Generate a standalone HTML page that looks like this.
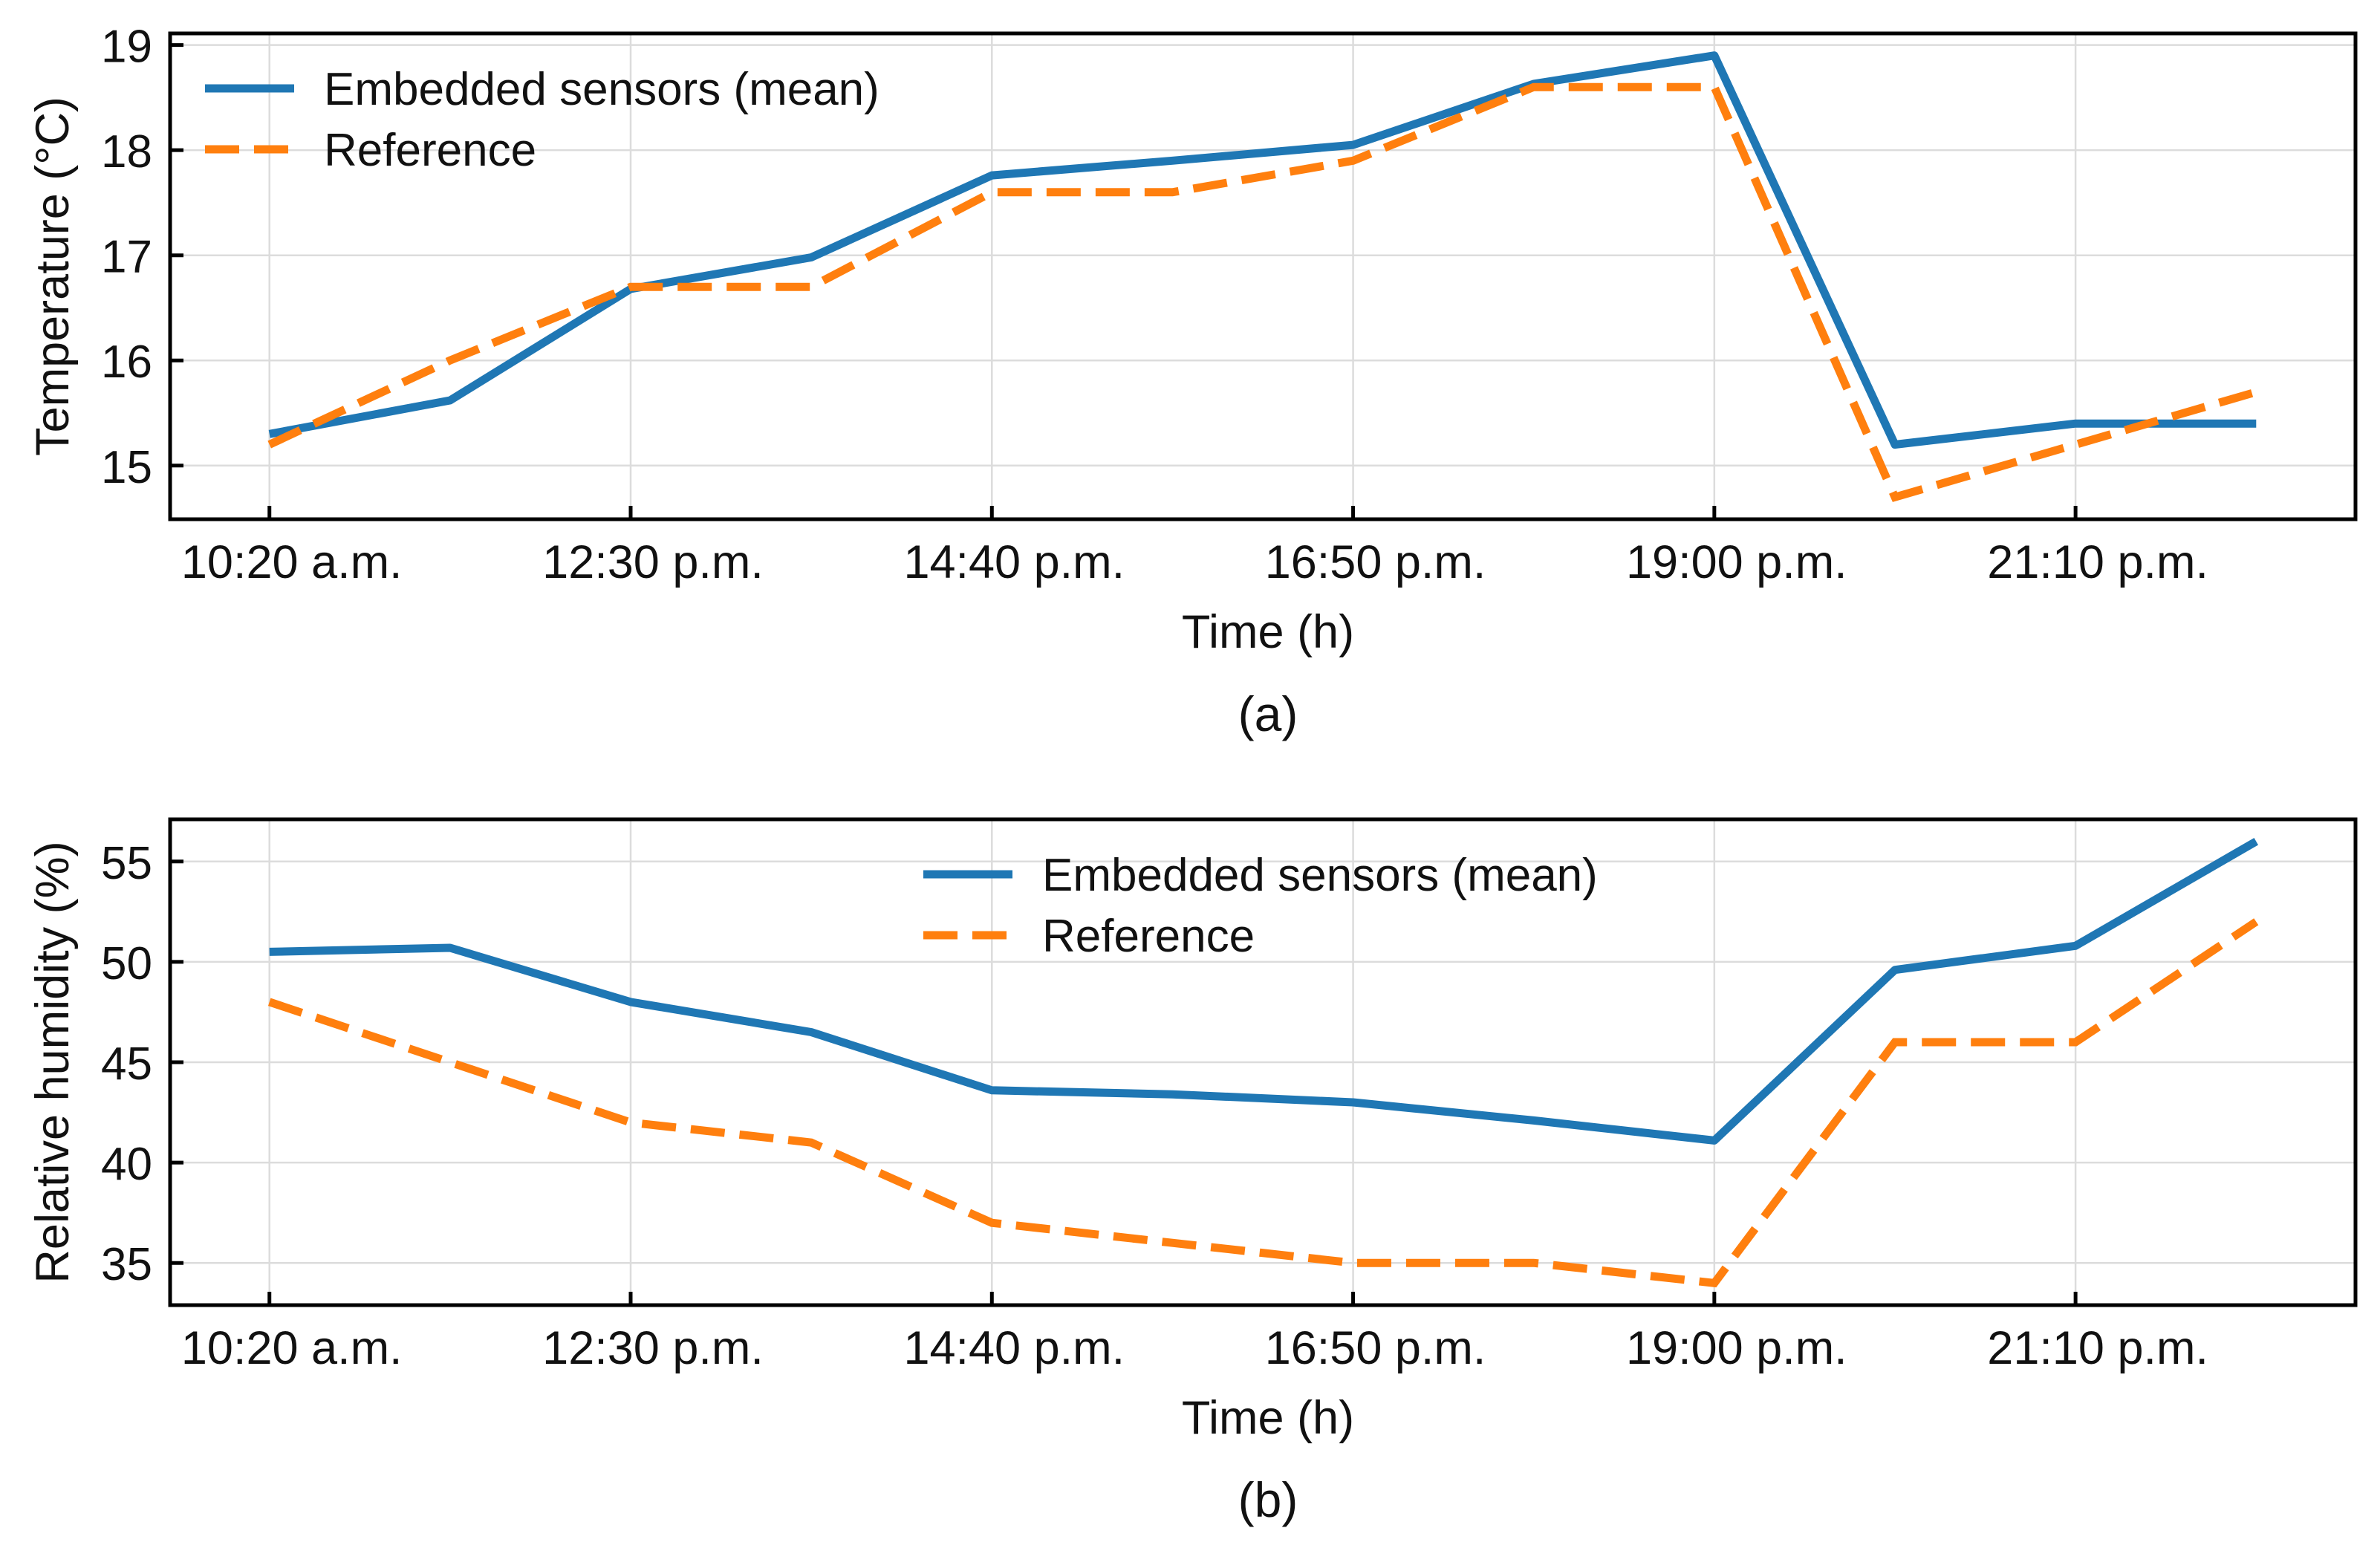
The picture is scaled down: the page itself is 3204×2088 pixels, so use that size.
<!DOCTYPE html>
<html><head><meta charset="utf-8"><style>
html,body{margin:0;padding:0;background:#fff;}
svg{display:block;}
text{font-family:"Liberation Sans",sans-serif;fill:#111;}
</style></head><body>
<svg id="fig" width="3204" height="2088" viewBox="0 0 3204 2088"></svg>
<script>
const xTickLabels = ["10:20 a.m.","12:30 p.m.","14:40 p.m.","16:50 p.m.","19:00 p.m.","21:10 p.m."];
const xTickIdx = [0,2,4,6,8,10];
const tempSensors = [15.3,15.62,16.68,16.98,17.76,17.9,18.05,18.63,18.9,15.2,15.4,15.4];
const tempReference = [15.2,16.0,16.7,16.7,17.6,17.6,17.9,18.6,18.6,14.7,15.2,15.7];
const tempTicks = [15,16,17,18,19];
const humSensors = [50.5,50.7,48.0,46.5,43.6,43.4,43.0,42.1,41.1,49.6,50.8,56.0];
const humReference = [48,45,42,41,37,36,35,35,34,46,46,52];
const humTicks = [35,40,45,50,55];

const NS="http://www.w3.org/2000/svg";
const svg=document.getElementById('fig');
function mk(tag,attrs,parent){const e=document.createElementNS(NS,tag);for(const k in attrs)e.setAttribute(k,attrs[k]);(parent||svg).appendChild(e);return e;}

function panel(cfg){
  const L=229,R=3171,T=cfg.top,B=cfg.bottom;
  const n=cfg.s1.length;
  const all=cfg.s1.concat(cfg.s2);
  const mn=Math.min(...all),mx=Math.max(...all),pad=(mx-mn)*0.05;
  const y0=mn-pad,y1=mx+pad;
  const x0=-0.55,x1=n-1+0.55;
  const X=i=>L+(i-x0)/(x1-x0)*(R-L);
  const Y=v=>B-(v-y0)/(y1-y0)*(B-T);
  const g=mk('g',{});
  
  
  cfg.yticks.forEach(v=>{
    const l=mk('line',{x1:L,x2:R,y1:Y(v),y2:Y(v),stroke:'#dcdcdc','stroke-width':2.5},g);
    
    
  });
  xTickIdx.forEach(i=>{
    const l=mk('line',{x1:X(i),x2:X(i),y1:T,y2:B,stroke:'#dcdcdc','stroke-width':2.5},g);
    
    
  });
  const pts=a=>a.map((v,i)=>X(i).toFixed(1)+','+Y(v).toFixed(1)).join(' ');
  const p1=mk('polyline',{points:pts(cfg.s1),fill:'none',stroke:'#1f77b4','stroke-width':11,'stroke-linejoin':'round'},g);
  
  
  const p2=mk('polyline',{points:pts(cfg.s2),fill:'none',stroke:'#ff7f0e','stroke-width':11,'stroke-dasharray':'46 20'},g);
  
  
  const fr=mk('rect',{x:L,y:T,width:R-L,height:B-T,fill:'none',stroke:'#000','stroke-width':5},g);
  
  
  cfg.yticks.forEach(v=>{
    const t=mk('line',{x1:L,x2:L+18,y1:Y(v),y2:Y(v),stroke:'#000','stroke-width':5},g);
    
    
    const tx=mk('text',{x:L-24,y:Y(v)+23,'text-anchor':'end','font-size':62},g);
    tx.textContent=v;
    
    
  });
  xTickIdx.forEach((i,k)=>{
    const t=mk('line',{x1:X(i),x2:X(i),y1:B,y2:B-18,stroke:'#000','stroke-width':5},g);
    
    
    const tx=mk('text',{x:X(i)+30,y:B+79,'text-anchor':'middle','font-size':63},g);
    tx.textContent=xTickLabels[k];
    
    
  });
  const xl=mk('text',{x:1707,y:B+173,'text-anchor':'middle','font-size':63},g);
  xl.textContent='Time (h)';
  
  
  const cap=mk('text',{x:1707,y:B+285,'text-anchor':'middle','font-size':66},g);
  cap.textContent=cfg.caption;
  
  
  const yl=mk('text',{x:0,y:0,'text-anchor':'middle','font-size':63,transform:`translate(92,${(T+B)/2}) rotate(-90)`},g);
  yl.textContent=cfg.ylabel;
  
  
  const lg=mk('g',{},g);
  
  
  const lx=cfg.legX, ly=cfg.legY;
  const a=mk('line',{x1:lx,x2:lx+120,y1:ly,y2:ly,stroke:'#1f77b4','stroke-width':11},lg);
  
  
  const at=mk('text',{x:lx+160,y:ly+22,'font-size':62},lg);
  at.textContent='Embedded sensors (mean)';
  
  
  const b=mk('line',{x1:lx,x2:lx+120,y1:ly+82,y2:ly+82,stroke:'#ff7f0e','stroke-width':11,'stroke-dasharray':'46 20'},lg);
  
  
  const bt=mk('text',{x:lx+160,y:ly+104,'font-size':62},lg);
  bt.textContent='Reference';
  
  
}
panel({name:'temperature-panel',top:45,bottom:699,s1:tempSensors,s2:tempReference,yticks:tempTicks,ylabel:'Temperature (°C)',caption:'(a)',legX:276,legY:119});
panel({name:'humidity-panel',top:1103,bottom:1757,s1:humSensors,s2:humReference,yticks:humTicks,ylabel:'Relative humidity (%)',caption:'(b)',legX:1243,legY:1177});
</script>
</body></html>
